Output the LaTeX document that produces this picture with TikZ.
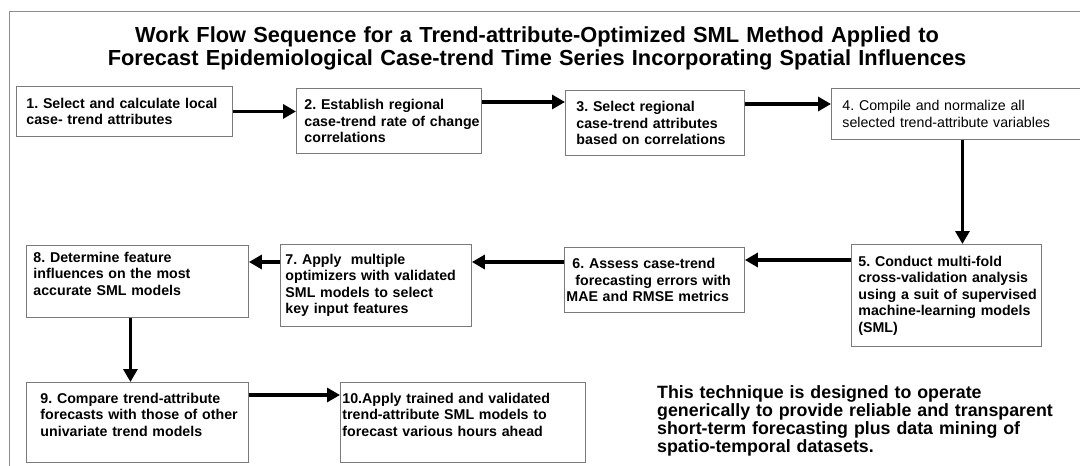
\documentclass[tikz,border=0pt]{standalone}
\usepackage{fontspec}
\setmainfont{Liberation Sans}
\usepackage{tikz}
\usetikzlibrary{arrows.meta, positioning}
\definecolor{framegray}{HTML}{8C8C8C}
\definecolor{boxgray}{HTML}{7A7A7A}
\frenchspacing

\begin{document}
\begin{tikzpicture}[x=1pt, y=-1pt,
    stepbox/.style={draw=boxgray, line width=0.9pt, anchor=north west, align=left,
      inner xsep=0pt, inner ysep=4pt, font=\fontsize{14.2}{16.5}\selectfont\bfseries},
    lpad/.style={execute at begin node={\leftskip=#1\rightskip=-20pt plus 1fil\hyphenpenalty=10000\relax}},
    flow/.style={-{Triangle[length=13pt,width=14pt]}, line width=3.2pt}]
  \useasboundingbox (0,0) rectangle (1080,466);
  \draw[framegray, line width=1pt] (1080,11) -- (9,11) -- (9,466);

  % title
  \node[anchor=base, align=center, text width=1060pt, inner sep=0pt,
        font=\fontsize{21.8}{23.5}\selectfont\bfseries] (title) at (537,42)
    {Work Flow Sequence for a Trend-attribute-Optimized SML Method Applied to\\
     Forecast Epidemiological Case-trend Time Series Incorporating Spatial Influences};

  % top row
  \node[stepbox, lpad=10pt, text width=216pt, minimum height=50pt] (b1) at (16,86)
    {1. Select and calculate local\\case- trend attributes};
  \node[stepbox, lpad=8pt, text width=185pt, minimum height=65pt] (b2) at (296,88)
    {2. Establish regional\\case-trend rate of change\\correlations};
  \node[stepbox, lpad=11pt, text width=179pt, minimum height=65pt] (b3) at (565,90)
    {3. Select regional\\case-trend attributes\\based on correlations};
  \node[stepbox, lpad=11pt, text width=262pt, minimum height=51pt,
        font=\fontsize{14.2}{16.5}\selectfont] (b4) at (831,88)
    {4. Compile and normalize all\\selected trend-attribute variables};

  % middle row
  \node[stepbox, lpad=7pt, text width=190pt, minimum height=102pt] (b5) at (851,244)
    {5. Conduct multi-fold\\cross-validation analysis\\using a suit of supervised\\machine-learning models\\(SML)};
  \node[stepbox, lpad=2pt, text width=180pt, minimum height=65pt] (b6) at (564,247)
    {\hspace*{6pt}6. Assess case-trend\\\hspace*{9pt}forecasting errors with\\MAE and RMSE metrics};
  \node[stepbox, lpad=5pt, text width=191pt, minimum height=82pt] (b7) at (280,244)
    {7. Apply\ \ multiple\\optimizers with validated\\SML models to select\\key input features};
  \node[stepbox, lpad=7pt, text width=222pt, text height=13pt, text depth=51pt] (b8) at (26,245)
    {8. Determine feature\\influences on the most\\accurate SML models};

  % bottom row
  \node[stepbox, lpad=14pt, text width=222pt, text height=17pt, text depth=55pt] (b9) at (26,382)
    {9. Compare trend-attribute\\forecasts with those of other\\univariate trend models};
  \node[stepbox, lpad=2pt, text width=245pt, text height=17pt, text depth=55pt] (b10) at (340,382)
    {10.Apply trained and validated\\trend-attribute SML models to\\forecast various hours ahead};

  \node[anchor=base west, align=left, text width=420pt, inner sep=0pt,
        font=\fontsize{17.8}{18}\selectfont\bfseries] (note) at (657,398)
    {This technique is designed to operate\\generically to provide reliable and transparent\\short-term forecasting plus data mining of\\spatio-temporal datasets.};

  % connectors
  \draw[flow] (b1.east) -- (b1.east -| b2.west);
  \draw[flow] ([yshift=-14pt]b2.north east) -- ([yshift=-12pt]b3.north west);
  \draw[flow] ([yshift=-14pt]b3.north east) -- ([yshift=-16pt]b4.north west);
  \draw[flow] (b4.south) -- (b4.south |- b5.north);
  \draw[flow] ([yshift=-16pt]b5.north west) -- ([yshift=-13pt]b6.north east);
  \draw[flow] ([yshift=-15pt]b6.north west) -- ([yshift=-18pt]b7.north east);
  \draw[flow] ([yshift=-18pt]b7.north west) -- ([yshift=-17pt]b8.north east);
  \draw[flow] ([xshift=-7pt]b8.south) -- ([xshift=-7pt]b9.north);
  \draw[flow] ([yshift=-13pt]b9.north east) -- ([yshift=-13pt]b10.north west);
\end{tikzpicture}
\end{document}
